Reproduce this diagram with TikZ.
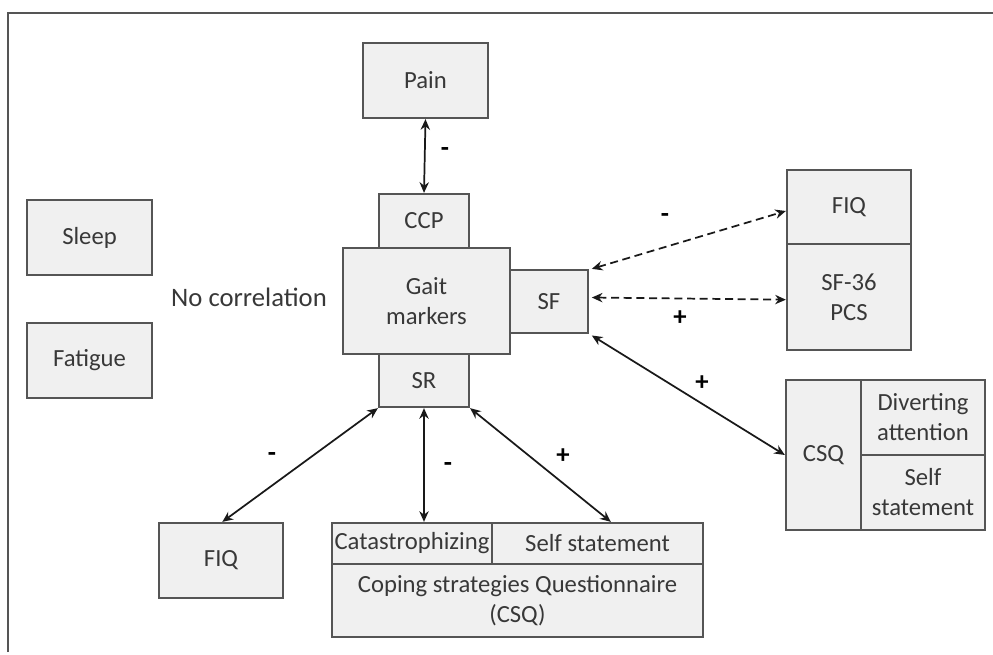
\documentclass[tikz,border=0pt]{standalone}
\usepackage{fontspec}
\setmainfont{Carlito}
\usetikzlibrary{arrows.meta}
\definecolor{boxc}{HTML}{555555}
\definecolor{boxf}{HTML}{F0F0F0}
\definecolor{txt}{HTML}{383838}
\newcommand\mybox[6]{\node[box, minimum width={(#4-#2)*0.75pt}, minimum height={(#5-#3)*0.75pt}] (#1) at ({(#2+#4)/2},{(#3+#5)/2}) {#6};}
\begin{document}
\begin{tikzpicture}[x=0.75pt,y=-0.75pt,
  box/.style={draw=boxc, fill=boxf, line width=1.7pt, inner sep=0pt, text=txt, align=center, font=\fontsize{18.5}{22.5}\selectfont},
  arr/.style={line width=1.3pt, black!90, {Stealth[length=8pt,width=7pt]}-{Stealth[length=8pt,width=7pt]}},
  darr/.style={arr, dash pattern=on 6pt off 3.5pt},
  lbl/.style={font=\fontsize{20}{22.5}\selectfont\bfseries, text=black},
  plain/.style={font=\fontsize{20}{22.5}\selectfont, text=txt}]
\useasboundingbox (0,0) rectangle (993,654);
\draw[line width=1.3pt, boxc] (8,652) -- (8,13) -- (993,13);

% left boxes
\mybox{sleep}{27}{200}{152}{275}{Sleep}
\mybox{fatigue}{27}{323}{152}{398}{Fatigue}
\node[plain] (nocorr) at (249,297) {No correlation};

% centre
\mybox{pain}{363}{43}{488}{118}{Pain}
\mybox{gait}{343}{248}{510}{354}{Gait\\markers}
\mybox{ccp}{379}{194}{469}{248}{CCP}
\mybox{sf}{510}{270}{588}{333}{SF}
\mybox{sr}{379}{354}{469}{407}{SR}

% right
\mybox{fiqr}{787}{170}{911}{244}{FIQ}
\mybox{sf36}{787}{244}{911}{350}{SF-36\\PCS}
\mybox{csqr}{786}{380}{861}{530}{CSQ}
\mybox{div}{861}{380}{985}{455}{Diverting\\attention}
\mybox{selfr}{861}{455}{985}{530}{Self\\statement}

% bottom
\mybox{fiqb}{159}{523}{283}{598}{FIQ}
\mybox{cat}{332}{523}{492}{564}{Catastrophizing}
\mybox{selfb}{492}{523}{703}{564}{Self statement}
\mybox{coping}{332}{564}{703}{637}{Coping strategies Questionnaire\\(CSQ)}

% connectors
\draw[arr] (pain.south) -- (ccp.north);
\draw[line width=1.3pt, black!90, dash pattern=on 6pt off 3.5pt, {Stealth[open,length=8pt,width=7pt]}-{Stealth[length=8pt,width=7pt]}] ([xshift=2pt]sf.north east) -- ([yshift=-3pt]fiqr.west);
\draw[darr] ([xshift=2pt,yshift=3pt]sf.east) -- ([yshift=-2pt]sf36.west);
\draw[arr] ([xshift=2pt,yshift=-1pt]sf.south east) -- (csqr.west);
\draw[arr] (sr.south west) -- ([xshift=1pt]fiqb.north);
\draw[arr] (sr.south) -- (sr.south |- cat.north);
\draw[arr] (sr.south east) -- ([xshift=10pt]selfb.north);

% labels
\node[lbl] (l1) at (445,152) {-};
\node[lbl] (l2) at (665,218) {-};
\node[lbl] (l3) at (680,318) {+};
\node[lbl] (l4) at (702,383) {+};
\node[lbl] (l5) at (272,457) {-};
\node[lbl] (l6) at (448,467) {-};
\node[lbl] (l7) at (563,456) {+};
\end{tikzpicture}
\end{document}
